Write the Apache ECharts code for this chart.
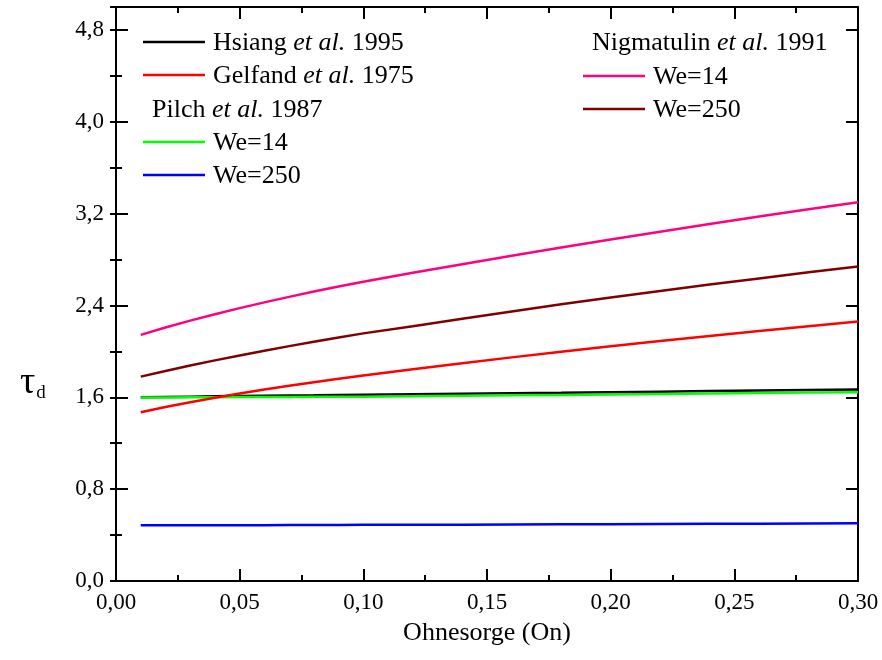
<!DOCTYPE html>
<html>
<head>
<meta charset="utf-8">
<script src="https://cdn.jsdelivr.net/npm/echarts@6/dist/echarts.min.js"></script>
<style>
  html, body { margin: 0; padding: 0; background: #fff; }
  #chart { width: 882px; height: 660px; }
</style>
</head>
<body>
<div id="chart"></div>
<script>
// Ohnesorge number sampled along the curves
const onValues = [0.01, 0.02, 0.03, 0.04, 0.05, 0.06, 0.07, 0.08, 0.09, 0.10,
                  0.12, 0.14, 0.16, 0.18, 0.20, 0.22, 0.24, 0.26, 0.28, 0.30];

// Dimensionless breakup time tau_d for each correlation
const hsiang1995 = [1.600, 1.603, 1.606, 1.609, 1.612, 1.614, 1.616, 1.618, 1.621, 1.623,
                    1.627, 1.631, 1.635, 1.639, 1.644, 1.649, 1.654, 1.659, 1.664, 1.669];
const gelfand1975 = [1.470, 1.515, 1.557, 1.596, 1.633, 1.668, 1.701, 1.732, 1.762, 1.791,
                     1.845, 1.897, 1.948, 1.997, 2.045, 2.090, 2.135, 2.178, 2.220, 2.260];
const pilchWe14 = [1.598, 1.599, 1.600, 1.601, 1.602, 1.602, 1.603, 1.604, 1.605, 1.606,
                   1.609, 1.613, 1.617, 1.621, 1.625, 1.629, 1.633, 1.637, 1.641, 1.645];
const pilchWe250 = [0.485, 0.485, 0.485, 0.486, 0.486, 0.486, 0.487, 0.487, 0.488, 0.489,
                    0.490, 0.491, 0.492, 0.494, 0.495, 0.497, 0.498, 0.499, 0.501, 0.503];
const nigmatulinWe14 = [2.144, 2.208, 2.268, 2.324, 2.377, 2.427, 2.475, 2.521, 2.565, 2.607,
                        2.685, 2.760, 2.834, 2.905, 2.975, 3.043, 3.110, 3.175, 3.238, 3.300];
const nigmatulinWe250 = [1.780, 1.830, 1.877, 1.922, 1.965, 2.006, 2.046, 2.084, 2.121, 2.157,
                         2.220, 2.285, 2.348, 2.410, 2.470, 2.527, 2.582, 2.636, 2.689, 2.740];

// Axis ranges and tick spacing
const xMin = 0, xMax = 0.30, xStep = 0.05;
const yMin = 0, yMax = 5.0, yStep = 0.8, yMinorStep = 0.4;

const FONT = '"Liberation Serif", "Times New Roman", serif';
const pairs = ys => onValues.map((x, i) => [x, ys[i]]);
const comma = (v, d) => v.toFixed(d).replace('.', ',');

const seriesDefs = [
  { data: hsiang1995, color: '#000000' },
  { data: pilchWe14, color: '#00ff00' },
  { data: gelfand1975, color: '#ff0000' },
  { data: pilchWe250, color: '#0000ff' },
  { data: nigmatulinWe14, color: '#ff0080' },
  { data: nigmatulinWe250, color: '#800000' }
];

const axisLine = { show: true, onZero: false, lineStyle: { color: '#000', width: 2 } };
const majorTick = { show: true, inside: true, length: 12, lineStyle: { color: '#000', width: 2 } };
const shortTick = { show: true, inside: true, length: 6, lineStyle: { color: '#000', width: 2 } };
const minorTickStyle = { show: true, splitNumber: 2, length: 6, lineStyle: { color: '#000', width: 2 } };

function xAxisDef(position, showLabels) {
  return {
    type: 'value', position, min: xMin, max: xMax, interval: xStep,
    axisLine, axisTick: majorTick, minorTick: minorTickStyle,
    splitLine: { show: false }, minorSplitLine: { show: false },
    axisLabel: {
      show: showLabels, margin: 10, color: '#000', fontFamily: FONT, fontSize: 23,
      formatter: v => comma(v, 2)
    }
  };
}

function yAxisDef(position, step, tick, showLine, showLabels) {
  return {
    type: 'value', position, min: yMin, max: yMax, interval: step,
    axisLine: showLine ? axisLine : { show: false },
    axisTick: tick,
    splitLine: { show: false },
    axisLabel: {
      show: showLabels, margin: 12, color: '#000', fontFamily: FONT, fontSize: 23,
      formatter: v => (v > yMax - 0.1 ? '' : comma(v, 1))
    }
  };
}

// Legend block: swatch lines and captions
const legendText = (x, y, text) => ({
  type: 'text', x, y,
  style: {
    text, fill: '#000', font: '26px ' + FONT, verticalAlign: 'middle',
    rich: { i: { fontStyle: 'italic', fontSize: 26, fontFamily: FONT, fill: '#000' } }
  }
});
const swatch = (x, y, color) => ({
  type: 'line', shape: { x1: x, y1: y, x2: x + 62, y2: y },
  style: { stroke: color, lineWidth: 2.5 }
});

const graphics = [
  swatch(143, 42, '#000000'), legendText(213, 43, 'Hsiang {i|et al.} 1995'),
  swatch(143, 75, '#ff0000'), legendText(213, 76, 'Gelfand {i|et al.} 1975'),
  legendText(152, 110, 'Pilch {i|et al.} 1987'),
  swatch(143, 142, '#00ff00'), legendText(213, 143, 'We=14'),
  swatch(143, 175, '#0000ff'), legendText(213, 176, 'We=250'),
  legendText(592, 43, 'Nigmatulin {i|et al.} 1991'),
  swatch(583, 76, '#ff0080'), legendText(653, 77, 'We=14'),
  swatch(583, 109, '#800000'), legendText(653, 110, 'We=250'),
  // vertical axis title: tau with subscript d
  {
    type: 'text', x: 20, y: 383,
    style: {
      text: '{t|τ}{s|d}', verticalAlign: 'middle',
      rich: {
        t: { fontSize: 38, fontFamily: FONT, fill: '#000' },
        s: { fontSize: 19, fontFamily: FONT, fill: '#000', padding: [20, 0, 0, 1] }
      }
    }
  },
  // horizontal axis title
  {
    type: 'text', x: 487, y: 633,
    style: { text: 'Ohnesorge (On)', fill: '#000', font: '26px ' + FONT, align: 'center', verticalAlign: 'middle' }
  }
];

const chart = echarts.init(document.getElementById('chart'), null, { renderer: 'canvas' });
chart.setOption({
  backgroundColor: '#ffffff',
  animation: false,
  grid: { left: 116, right: 24, top: 7, bottom: 79, containLabel: false },
  xAxis: [xAxisDef('bottom', true), xAxisDef('top', false)],
  yAxis: [
    yAxisDef('left', yStep, majorTick, true, true),
    yAxisDef('left', yMinorStep, shortTick, false, false),
    yAxisDef('right', yStep, majorTick, true, false),
    yAxisDef('right', yMinorStep, shortTick, false, false)
  ],
  series: seriesDefs.map(s => ({
    type: 'line', xAxisIndex: 0, yAxisIndex: 0,
    data: pairs(s.data), showSymbol: false, smooth: false,
    lineStyle: { color: s.color, width: 2.5 }, itemStyle: { color: s.color },
    emphasis: { disabled: true }
  })),
  graphic: graphics
});
</script>
</body>
</html>
